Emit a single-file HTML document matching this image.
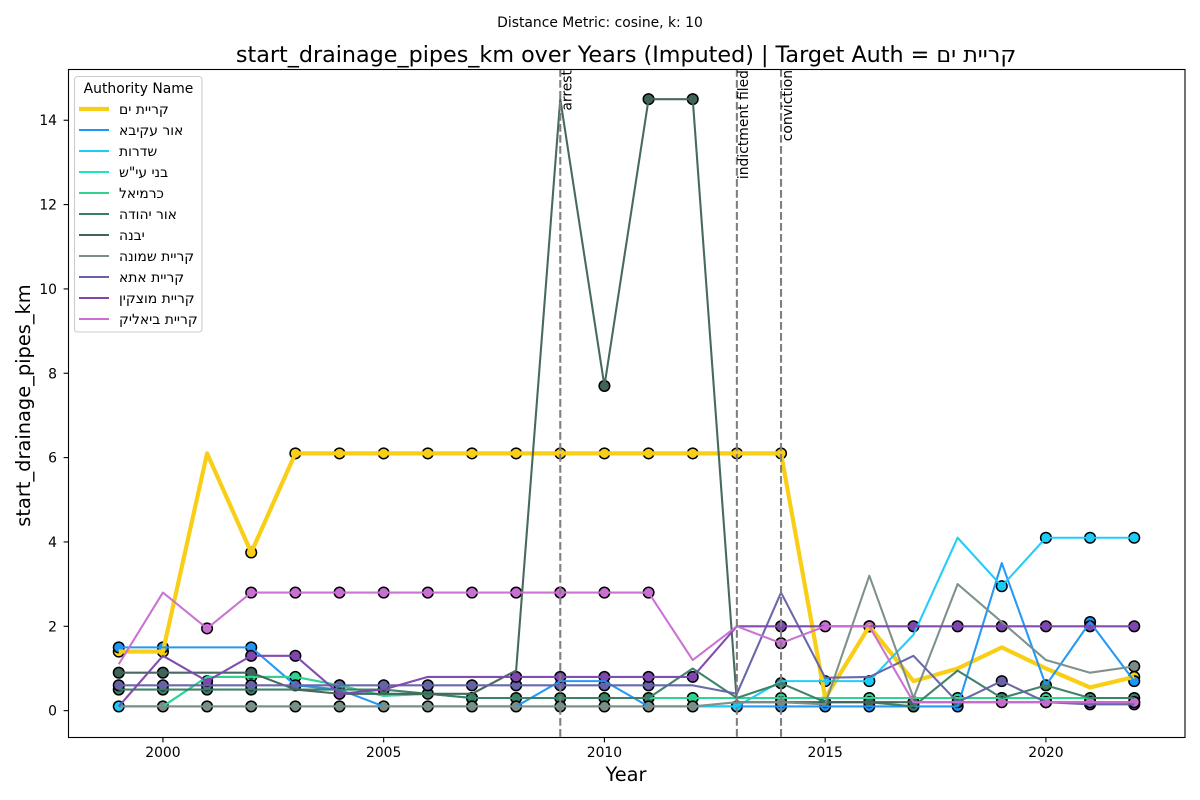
<!DOCTYPE html>
<html lang="en">
<head>
<meta charset="utf-8">
<title>start_drainage_pipes_km over Years</title>
<style>
html,body{margin:0;padding:0;background:#fff;width:1200px;height:800px;overflow:hidden}
svg{display:block}
text{font-family:"DejaVu Sans","Liberation Sans","Noto Sans CJK JP",sans-serif;fill:#000}
</style>
</head>
<body>
<svg id="chart" xmlns="http://www.w3.org/2000/svg" width="1200" height="800" viewBox="0 0 1200 800">
  <rect x="0" y="0" width="1200" height="800" fill="#fff"/>
  <text x="600" y="27" font-size="13.9" text-anchor="middle">Distance Metric: cosine, k: 10</text>
  <text x="626" y="62" font-size="22.25" text-anchor="middle">start_drainage_pipes_km over Years (Imputed) | Target Auth = קריית ים</text>
  <g id="marks"></g>
  <g id="events"></g>
  <rect x="68.5" y="69.5" width="1116.5" height="668" fill="none" stroke="#000" stroke-width="1.1"/>
  <g id="axes"></g>
  <text x="626" y="781" font-size="19.4" text-anchor="middle">Year</text>
  <text transform="translate(30,405.5) rotate(-90)" font-size="19.4" text-anchor="middle">start_drainage_pipes_km</text>

  <g>
    <rect x="74.5" y="76.5" width="127.5" height="255.5" rx="3" ry="3" fill="#fff" fill-opacity="0.8" stroke="#ccc" stroke-width="1.1"/>
    <text x="138.5" y="93" font-size="13.9" text-anchor="middle">Authority Name</text>
    <line x1="79" y1="109" x2="109" y2="109" stroke="#F8CE16" stroke-width="4.17"/>
    <text x="119" y="114" font-size="13.9">קריית ים</text>
    <line x1="79" y1="130" x2="109" y2="130" stroke="#1E96F5" stroke-width="2.08"/>
    <text x="119" y="135" font-size="13.9">אור עקיבא</text>
    <line x1="79" y1="151" x2="109" y2="151" stroke="#1CCBF8" stroke-width="2.08"/>
    <text x="119" y="156" font-size="13.9">שדרות</text>
    <line x1="79" y1="172" x2="109" y2="172" stroke="#19E3C3" stroke-width="2.08"/>
    <text x="119" y="177" font-size="13.9">בני עי"ש</text>
    <line x1="79" y1="193" x2="109" y2="193" stroke="#2FD38D" stroke-width="2.08"/>
    <text x="119" y="198" font-size="13.9">כרמיאל</text>
    <line x1="79" y1="214" x2="109" y2="214" stroke="#3A7F65" stroke-width="2.08"/>
    <text x="119" y="219" font-size="13.9">אור יהודה</text>
    <line x1="79" y1="235" x2="109" y2="235" stroke="#41645A" stroke-width="2.08"/>
    <text x="119" y="240" font-size="13.9">יבנה</text>
    <line x1="79" y1="256" x2="109" y2="256" stroke="#7A8D86" stroke-width="2.08"/>
    <text x="119" y="261" font-size="13.9">קריית שמונה</text>
    <line x1="79" y1="277" x2="109" y2="277" stroke="#6463A8" stroke-width="2.08"/>
    <text x="119" y="282" font-size="13.9">קריית אתא</text>
    <line x1="79" y1="298" x2="109" y2="298" stroke="#7E46AE" stroke-width="2.08"/>
    <text x="119" y="303" font-size="13.9">קריית מוצקין</text>
    <line x1="79" y1="319" x2="109" y2="319" stroke="#C96ED2" stroke-width="2.08"/>
    <text x="119" y="324" font-size="13.9">קריית ביאליק</text>
  </g>
</svg>

<script>
const years = [1999,2000,2001,2002,2003,2004,2005,2006,2007,2008,2009,2010,2011,2012,2013,2014,2015,2016,2017,2018,2019,2020,2021,2022];

const kiryatYamValues     = [1.4,1.4,6.1,3.75,6.1,6.1,6.1,6.1,6.1,6.1,6.1,6.1,6.1,6.1,6.1,6.1,0.3,2.0,0.7,1.0,1.5,1.0,0.55,0.8];
const orAkivaValues       = [1.5,1.5,1.5,1.5,0.6,0.5,0.1,0.1,0.1,0.1,0.7,0.7,0.1,0.1,0.1,0.1,0.1,0.1,0.1,0.1,3.5,0.6,2.1,0.7];
const sderotValues        = [0.1,0.1,0.1,0.1,0.1,0.1,0.1,0.1,0.1,0.1,0.1,0.1,0.1,0.1,0.1,0.7,0.7,0.7,1.8,4.1,2.95,4.1,4.1,4.1];
const bneiAyishValues     = [0.1,0.1,0.8,0.8,0.8,0.6,0.35,0.4,0.3,0.3,0.3,0.3,0.3,0.3,0.3,0.3,0.3,0.3,0.3,0.3,0.3,0.3,0.3,0.3];
const karmielValues       = [0.1,0.1,0.8,0.8,0.8,0.6,0.35,0.4,0.3,0.3,0.3,0.3,0.3,0.3,0.3,0.3,0.3,0.3,0.3,0.3,0.3,0.3,0.3,0.3];
const orYehudaValues      = [0.5,0.5,0.5,0.5,0.5,0.5,0.5,0.4,0.3,0.3,0.3,0.3,0.3,1.0,0.3,0.65,0.2,0.2,0.1,0.95,0.3,0.6,0.3,0.3];
const yavneValues         = [0.9,0.9,0.9,0.9,0.5,0.4,0.4,0.4,0.4,0.95,14.5,7.7,14.5,14.5,0.2,0.2,0.2,0.2,0.2,0.2,0.2,0.2,0.2,0.2];
const kiryatShmonaValues  = [0.1,0.1,0.1,0.1,0.1,0.1,0.1,0.1,0.1,0.1,0.1,0.1,0.1,0.1,0.2,0.2,0.15,3.2,0.3,3.0,2.1,1.2,0.9,1.05];
const kiryatAtaValues     = [0.6,0.6,0.6,0.6,0.6,0.6,0.6,0.6,0.6,0.6,0.6,0.6,0.6,0.6,0.4,2.8,0.78,0.8,1.3,0.2,0.7,0.2,0.15,0.15];
const kiryatMotzkinValues = [0.1,1.3,0.7,1.3,1.3,0.4,0.5,0.8,0.8,0.8,0.8,0.8,0.8,0.8,2.0,2.0,2.0,2.0,2.0,2.0,2.0,2.0,2.0,2.0];
const kiryatBialikValues  = [1.1,2.8,1.95,2.8,2.8,2.8,2.8,2.8,2.8,2.8,2.8,2.8,2.8,1.2,2.0,1.6,2.0,2.0,0.2,0.2,0.2,0.2,0.2,0.2];

const kiryatYamObserved     = [1999,2000,2002,2003,2004,2005,2006,2007,2008,2009,2010,2011,2012,2013,2014,2016,2022];
const orAkivaObserved       = [1999,2000,2002,2013,2014,2015,2016,2017,2018,2021,2022];
const sderotObserved        = [1999,2013,2015,2016,2019,2020,2021,2022];
const bneiAyishObserved     = [2007];
const karmielObserved       = [2002,2003,2004,2012,2014,2016,2018,2019,2020];
const orYehudaObserved      = [1999,2000,2001,2002,2005,2006,2007,2008,2009,2010,2011,2014,2017,2019,2020,2021,2022];
const yavneObserved         = [1999,2000,2002,2004,2010,2011,2012,2015,2016,2017,2018,2020,2021,2022];
const kiryatShmonaObserved  = [2000,2001,2002,2003,2004,2005,2006,2007,2008,2009,2010,2011,2012,2014,2022];
const kiryatAtaObserved     = [1999,2000,2001,2002,2003,2004,2005,2006,2007,2008,2009,2010,2011,2019,2020,2021,2022];
const kiryatMotzkinObserved = [2001,2002,2003,2004,2008,2009,2010,2011,2012,2014,2016,2017,2018,2019,2020,2021,2022];
const kiryatBialikObserved  = [2001,2002,2003,2004,2005,2006,2007,2008,2009,2010,2011,2014,2015,2016,2019,2020,2021,2022];

const seriesKeys = ['kiryat-yam','or-akiva','sderot','bnei-ayish','karmiel','or-yehuda','yavne','kiryat-shmona','kiryat-ata','kiryat-motzkin','kiryat-bialik'];
const seriesValues = [kiryatYamValues,orAkivaValues,sderotValues,bneiAyishValues,karmielValues,orYehudaValues,yavneValues,kiryatShmonaValues,kiryatAtaValues,kiryatMotzkinValues,kiryatBialikValues];
const seriesObserved = [kiryatYamObserved,orAkivaObserved,sderotObserved,bneiAyishObserved,karmielObserved,orYehudaObserved,yavneObserved,kiryatShmonaObserved,kiryatAtaObserved,kiryatMotzkinObserved,kiryatBialikObserved];
const seriesColors = ['#F8CE16','#1E96F5','#1CCBF8','#19E3C3','#2FD38D','#3A7F65','#41645A','#7A8D86','#6463A8','#7E46AE','#C96ED2'];

const xTickValues = [2000,2005,2010,2015,2020];
const yTickValues = [0,2,4,6,8,10,12,14];
const eventYears = [2009,2013,2014];
const eventLabels = ['arrest','indictment filed','conviction'];

const NS = 'http://www.w3.org/2000/svg';
const plotLeft = 68, plotRight = 1185, plotTop = 69, plotBottom = 737;
const xMin = 1997.85, xMax = 2023.15, yMin = -0.625, yMax = 15.215;

function xScale(v){ return plotLeft + (v - xMin) / (xMax - xMin) * (plotRight - plotLeft); }
function yScale(v){ return plotBottom - (v - yMin) / (yMax - yMin) * (plotBottom - plotTop); }

function make(tag, attrs, parent){
  const el = document.createElementNS(NS, tag);
  for (const k in attrs) el.setAttribute(k, attrs[k]);
  parent.appendChild(el);
  return el;
}

const marks = document.getElementById('marks');
const axes = document.getElementById('axes');
const events = document.getElementById('events');

seriesKeys.forEach(function(key, s){
  seriesObserved[s].forEach(function(year){
    const value = seriesValues[s][years.indexOf(year)];
    const dot = make('circle', {cx:xScale(year), cy:yScale(value), r:5.3, fill:seriesColors[s], stroke:'#000', 'stroke-width':1.5}, marks);
    
    
  });
});

seriesKeys.forEach(function(key, s){
  const pts = years.map(function(year, i){ return xScale(year) + ',' + yScale(seriesValues[s][i]); }).join(' ');
  const line = make('polyline', {points:pts, fill:'none', stroke:seriesColors[s], 'stroke-width': s === 0 ? 4.17 : 2.08, 'stroke-opacity': s === 0 ? 1 : 0.97, 'stroke-linejoin':'round'}, marks);
  
  
});

eventYears.forEach(function(year, i){
  const x = xScale(year);
  const rule = make('line', {x1:x, x2:x, y1:plotTop, y2:plotBottom, stroke:'#7f7f7f', 'stroke-width':2.08, 'stroke-dasharray':'7.7 3.3'}, events);
  
  
  const label = make('text', {transform:'translate(' + (x + 11) + ',70) rotate(-90)', 'font-size':13.9, 'text-anchor':'end'}, events);
  label.textContent = eventLabels[i];
  
  
});

xTickValues.forEach(function(v){
  const x = xScale(v);
  const tick = make('line', {x1:x, x2:x, y1:plotBottom + 0.5, y2:plotBottom + 5.4, stroke:'#000', 'stroke-width':1.1}, axes);
  
  
  const label = make('text', {x:x, y:757, 'font-size':13.9, 'text-anchor':'middle'}, axes);
  label.textContent = String(v);
  
  
});

yTickValues.forEach(function(v){
  const y = yScale(v);
  const tick = make('line', {x1:plotLeft - 4.4, x2:plotLeft + 0.5, y1:y, y2:y, stroke:'#000', 'stroke-width':1.1}, axes);
  
  
  const label = make('text', {x:plotLeft - 11, y:y + 5, 'font-size':13.9, 'text-anchor':'end'}, axes);
  label.textContent = String(v);
  
  
});
</script>
</body>
</html>
